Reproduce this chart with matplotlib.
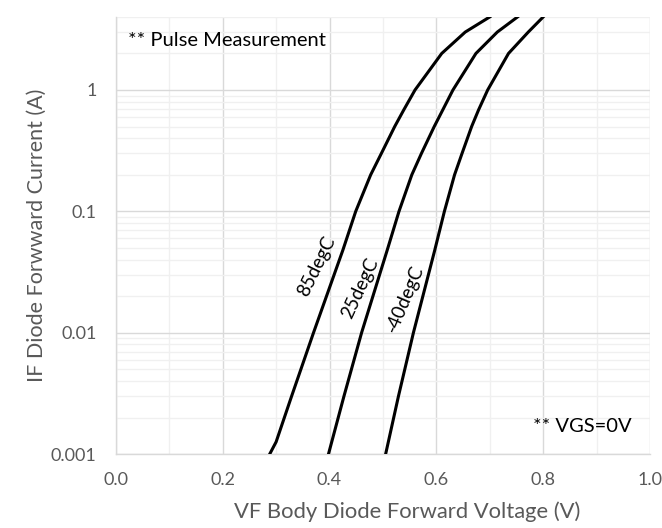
import numpy as np
import matplotlib
matplotlib.use("Agg")
import matplotlib.pyplot as plt
from matplotlib.ticker import FixedLocator, LogLocator, NullFormatter

# --- data (VF in V, IF in A) ---
vf_85 = [0.288, 0.300, 0.329, 0.370, 0.425, 0.449, 0.477, 0.497, 0.522, 0.539, 0.560, 0.610, 0.654, 0.700]
if_85 = [0.001, 0.00126, 0.003, 0.01, 0.048, 0.1, 0.2, 0.3, 0.5, 0.686, 1.0, 2.0, 3.0, 4.0]

vf_25 = [0.398, 0.427, 0.460, 0.508, 0.530, 0.554, 0.572, 0.596, 0.612, 0.631, 0.674, 0.714, 0.752]
if_25 = [0.001, 0.003, 0.01, 0.048, 0.1, 0.2, 0.3, 0.5, 0.686, 1.0, 2.0, 3.0, 4.0]

vf_m40 = [0.505, 0.529, 0.557, 0.597, 0.615, 0.634, 0.648, 0.666, 0.679, 0.696, 0.735, 0.772, 0.800]
if_m40 = [0.001, 0.003, 0.01, 0.048, 0.1, 0.2, 0.3, 0.5, 0.686, 1.0, 2.0, 3.0, 4.0]

x_ticks = [0.0, 0.2, 0.4, 0.6, 0.8, 1.0]
y_ticks = [0.001, 0.01, 0.1, 1]
y_labels = ["0.001", "0.01", "0.1", "1"]

# label positions for the curves
labels = ["85degC", "25degC", "-40degC"]
label_x = [0.375, 0.457, 0.541]
label_y = [0.0355, 0.0234, 0.0189]
label_rot = [64, 65, 67]

plt.rcParams['font.family'] = ['Lato', 'DejaVu Sans']
grey = "#595959"

fig = plt.figure(figsize=(6.62, 5.28), dpi=100)
ax = fig.add_axes([0.175, 0.140, 0.807, 0.828])

for vf, cur in [(vf_85, if_85), (vf_25, if_25), (vf_m40, if_m40)]:
    ax.plot(vf, cur, color="black", lw=2.2, solid_joinstyle="round", zorder=3)

ax.set_yscale("log")
ax.set_xlim(0, 1.0)
ax.set_ylim(0.001, 4)

ax.set_xticks(x_ticks)
ax.set_xticklabels([f"{v:.1f}" for v in x_ticks])
ax.xaxis.set_minor_locator(FixedLocator(np.arange(0.1, 1.0, 0.2)))
ax.set_yticks(y_ticks)
ax.set_yticklabels(y_labels)
ax.yaxis.set_minor_locator(LogLocator(base=10, subs=np.arange(2, 10)))
ax.yaxis.set_minor_formatter(NullFormatter())

ax.grid(which="major", color="#d9d9d9", lw=1.0)
ax.grid(which="minor", color="#f0f0f0", lw=1.0)
ax.set_axisbelow(True)

ax.tick_params(which="both", length=0, labelsize=13, labelcolor=grey)
ax.tick_params(axis="y", pad=14)
ax.tick_params(axis="x", pad=13)

for s in ["top", "right"]:
    ax.spines[s].set_visible(False)
for s in ["left", "bottom"]:
    ax.spines[s].set_color("#d9d9d9")
    ax.spines[s].set_linewidth(1.0)

ax.set_xlabel("VF Body Diode Forward Voltage (V)", fontsize=15.8, color=grey)
ax.xaxis.set_label_coords(0.545, -0.108)
ax.set_ylabel("IF Diode Forwward Current (A)", fontsize=15.5, color=grey, labelpad=3)

for t, xx, yy, r in zip(labels, label_x, label_y, label_rot):
    ax.text(xx, yy, t, rotation=r, ha="center", va="center", fontsize=13.5, color="black")

ax.text(0.022, 0.946, "** Pulse Measurement", transform=ax.transAxes,
        ha="left", va="center", fontsize=14.5, color="black")
ax.text(0.966, 0.062, "** VGS=0V", transform=ax.transAxes,
        ha="right", va="center", fontsize=14.5, color="black")

fig.savefig("out.png", dpi=100)
